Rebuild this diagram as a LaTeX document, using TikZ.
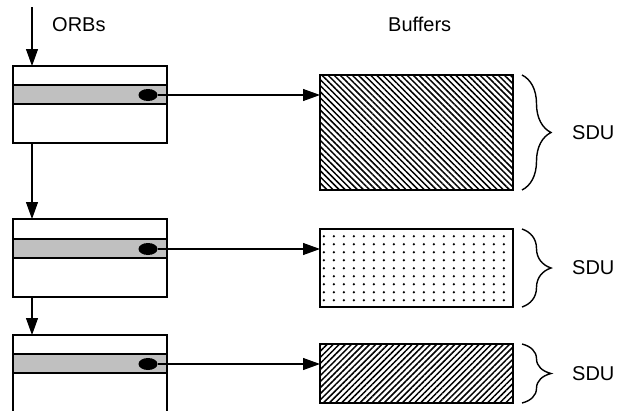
\documentclass[tikz,border=0pt]{standalone}
\usepackage{fontspec}
\setmainfont{Liberation Sans}
\usetikzlibrary{arrows.meta,patterns.meta,shapes.geometric,decorations.pathreplacing}
\definecolor{bandgray}{HTML}{C0C0C0}
\tikzdeclarepattern{
  name=sdudots, type=uncolored,
  bounding box={(0pt,0pt) and (10.3pt,8.2pt)},
  tile size={(10.3pt,8.2pt)},
  code={\fill (5.15pt,4.1pt) circle (1.4pt);}
}
\tikzset{
  orb/.style={draw, line width=1.3pt, minimum width=154pt, minimum height=77pt, inner sep=0pt, outer sep=0pt, fill=white},
  band/.style={draw, line width=1.3pt, fill=bandgray, minimum width=154pt, minimum height=19pt, inner sep=0pt, outer sep=0pt},
  dot/.style={ellipse, fill=black, minimum width=19pt, minimum height=12pt, inner sep=0pt, outer sep=0pt},
  buf/.style={draw, line width=1.3pt, inner sep=0pt, outer sep=0pt, minimum width=193pt},
  arr/.style={line width=1.1pt, -{Triangle[length=17pt,width=12pt]}},
  lbl/.style={font=\fontsize{20}{24}\selectfont, inner sep=0pt},
  sdubrace/.style={line width=1.4pt, decorate, decoration={brace, amplitude=29pt}},
}
\begin{document}
\begin{tikzpicture}[x=1pt,y=-1pt]
\useasboundingbox (0,0) rectangle (624,410);
\clip (0,0) rectangle (624,410);
% ORB boxes
\node[orb] (o1) at (90,104.5) {};
\node[band] (b1) at (90,94.5) {};
\node[dot] (e1) at (148,95) {};
\node[orb, minimum height=78pt] (o2) at (90,258) {};
\node[band] (b2) at (90,248.5) {};
\node[dot] (e2) at (148,249) {};
\node[orb, minimum height=78pt] (o3) at (90,374) {};
\node[band] (b3) at (90,363.5) {};
\node[dot] (e3) at (148,364) {};
% buffers
\node[buf, minimum height=115pt, pattern={Lines[angle=-45,distance=4.3pt,line width=1.5pt]}] (f1) at (416.5,132.5) {};
\node[buf, minimum height=78pt, pattern=sdudots] (f2) at (416.5,268) {};
\node[buf, minimum height=59pt, pattern={Lines[angle=45,distance=4.3pt,line width=1.5pt]}] (f3) at (416.5,373.5) {};
\node[buf, minimum height=115pt] at (f1) {};
\node[buf, minimum height=78pt] at (f2) {};
\node[buf, minimum height=59pt] at (f3) {};
% labels
\coordinate (top) at (32,7);
\node[lbl, anchor=base west] (orbs) at (52,31) {ORBs};
\node[lbl, anchor=base west] (bufs) at (388,31) {Buffers};
% vertical arrows
\draw[arr] (top) -- (top |- o1.north);
\draw[arr] (top |- o1.south) -- (top |- o2.north);
\draw[arr] (top |- o2.south) -- (top |- o3.north);
% horizontal arrows
\draw[arr] (e1.east) -- (e1 -| f1.west);
\draw[arr] (e2.east) -- (e2 -| f2.west);
\draw[arr] (e3.east) -- (e3 -| f3.west);
% braces
\draw[sdubrace] ([xshift=9pt]f1.north east) -- ([xshift=9pt]f1.south east) coordinate[midway, xshift=30pt] (s1);
\draw[sdubrace] ([xshift=9pt]f2.north east) -- ([xshift=9pt]f2.south east) coordinate[midway, xshift=30pt] (s2);
\draw[sdubrace] ([xshift=9pt]f3.north east) -- ([xshift=9pt]f3.south east) coordinate[midway, xshift=30pt] (s3);
\node[lbl, anchor=west] (sdu1) at ([xshift=20pt]s1) {SDU};
\node[lbl, anchor=west] (sdu2) at ([xshift=20pt]s2) {SDU};
\node[lbl, anchor=west] (sdu3) at ([xshift=20pt]s3) {SDU};
\end{tikzpicture}
\end{document}
